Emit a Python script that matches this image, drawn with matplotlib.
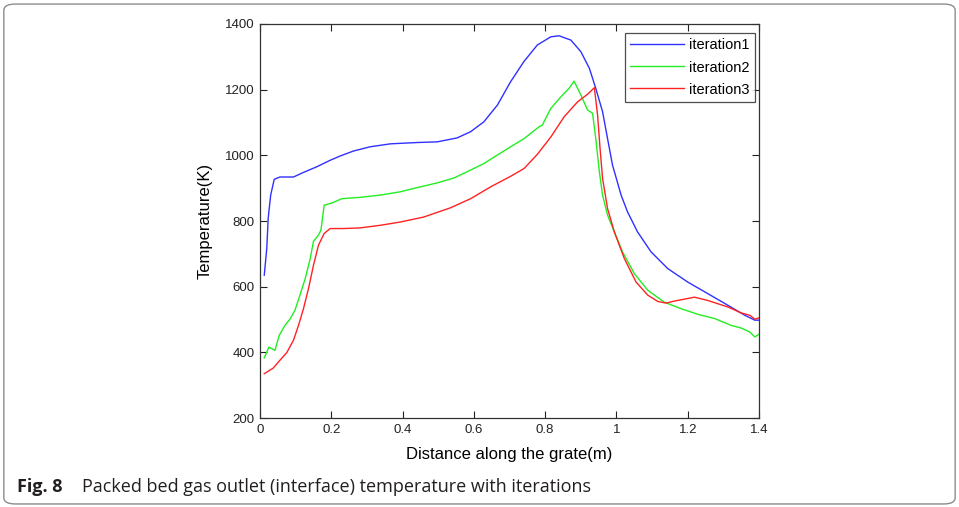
#!/usr/bin/env python3
"""Packed bed gas outlet temperature for three iterations (Fig. 8)."""

import matplotlib

matplotlib.use("Agg")
import matplotlib.pyplot as plt
from matplotlib.patches import FancyBboxPatch

# iteration 1
x_it1 = [0.012, 0.019, 0.023, 0.030, 0.040, 0.056, 0.094, 0.122, 0.159, 0.197,
         0.225, 0.262, 0.309, 0.366, 0.441, 0.497, 0.553, 0.591, 0.628, 0.666,
         0.703, 0.740, 0.778, 0.816, 0.839, 0.872, 0.900, 0.924, 0.942, 0.961,
         0.975, 0.989, 1.013, 1.031, 1.059, 1.097, 1.144, 1.200, 1.256, 1.313,
         1.360, 1.388, 1.400]
y_it1 = [635, 716, 808, 879, 927, 934, 934, 948, 965, 985,
         998, 1013, 1026, 1035, 1039, 1041, 1053, 1072, 1102, 1153,
         1224, 1285, 1336, 1361, 1364, 1351, 1316, 1265, 1204, 1133,
         1051, 970, 879, 828, 767, 706, 655, 614, 579, 543,
         513, 498, 498]

# iteration 2
x_it2 = [0.012, 0.025, 0.042, 0.054, 0.070, 0.084, 0.098, 0.112, 0.127, 0.141,
         0.150, 0.164, 0.171, 0.180, 0.202, 0.230, 0.281, 0.338, 0.394, 0.450,
         0.497, 0.544, 0.581, 0.628, 0.666, 0.703, 0.741, 0.783, 0.792, 0.816,
         0.844, 0.867, 0.881, 0.900, 0.919, 0.933, 0.942, 0.952, 0.961, 0.975,
         0.994, 1.017, 1.050, 1.088, 1.134, 1.181, 1.228, 1.275, 1.322, 1.350,
         1.374, 1.388, 1.400]
y_it2 = [383, 416, 406, 452, 482, 501, 528, 574, 625, 686,
         738, 757, 772, 848, 855, 868, 872, 879, 889, 904,
         916, 931, 950, 975, 1001, 1026, 1051, 1087, 1092, 1143,
         1178, 1204, 1226, 1184, 1138, 1128, 1051, 950, 879, 818,
         767, 706, 640, 589, 553, 533, 516, 503, 482, 474,
         462, 447, 455]

# iteration 3
x_it3 = [0.012, 0.037, 0.056, 0.075, 0.094, 0.108, 0.122, 0.136, 0.150, 0.164,
         0.180, 0.197, 0.234, 0.281, 0.338, 0.394, 0.459, 0.534, 0.591, 0.647,
         0.703, 0.741, 0.778, 0.816, 0.853, 0.891, 0.919, 0.938, 0.947, 0.954,
         0.961, 0.975, 0.994, 1.022, 1.055, 1.088, 1.116, 1.139, 1.162, 1.219,
         1.256, 1.313, 1.350, 1.374, 1.388, 1.400]
y_it3 = [335, 352, 376, 399, 437, 482, 533, 594, 665, 726,
         762, 777, 777, 779, 787, 797, 812, 840, 868, 904,
         936, 960, 1003, 1056, 1117, 1163, 1186, 1206, 1123, 1021,
         930, 838, 767, 686, 614, 574, 555, 550, 556, 568,
         558, 538, 520, 513, 501, 505]

x_ticks = [0, 0.2, 0.4, 0.6, 0.8, 1.0, 1.2, 1.4]
x_tick_labels = ["0", "0.2", "0.4", "0.6", "0.8", "1", "1.2", "1.4"]
y_ticks = [200, 400, 600, 800, 1000, 1200, 1400]

plt.rcParams["font.family"] = ["Liberation Sans", "DejaVu Sans"]

fig = plt.figure(figsize=(9.59, 5.07), dpi=100)

# rounded frame around the whole figure
frame = FancyBboxPatch(
    (0.004, 0.006), 0.992, 0.986,
    boxstyle="round,pad=0,rounding_size=0.012",
    transform=fig.transFigure, fill=False, edgecolor="#8c8c8c", linewidth=1.0,
)
fig.patches.append(frame)

ax = fig.add_axes([0.2711, 0.1755, 0.5204, 0.7772])
ax.plot(x_it1, y_it1, color="#3030ff", linewidth=1.0, label="iteration1")
ax.plot(x_it2, y_it2, color="#22ee22", linewidth=1.0, label="iteration2")
ax.plot(x_it3, y_it3, color="#ff2222", linewidth=1.0, label="iteration3")

ax.set_xlim(0, 1.4)
ax.set_ylim(200, 1400)
ax.set_xticks(x_ticks)
ax.set_xticklabels(x_tick_labels)
ax.set_yticks(y_ticks)
ax.tick_params(direction="in", top=True, right=True, length=5, width=0.8,
               labelsize=9.5, colors="#222222", pad=4)
for spine in ax.spines.values():
    spine.set_linewidth(0.9)
    spine.set_color("#333333")

ax.set_xlabel("Distance along the grate(m)", fontsize=12, labelpad=8)
ax.set_ylabel("Temperature(K)", fontsize=12, labelpad=9)

leg = ax.legend(loc="upper right", bbox_to_anchor=(0.992, 0.978), fontsize=10.5,
                frameon=True, fancybox=False, handlelength=3.7,
                borderpad=0.4, labelspacing=0.55, handletextpad=0.3,
                borderaxespad=0)
leg.get_frame().set_edgecolor("#222222")
leg.get_frame().set_linewidth(0.9)

fig.text(0.018, 0.030, "Fig. 8", fontsize=13, fontweight="bold",
         family=["Open Sans", "DejaVu Sans"], color="#231f20")
fig.text(0.0855, 0.030, "Packed bed gas outlet (interface) temperature with iterations",
         fontsize=13, family=["Open Sans", "DejaVu Sans"], color="#231f20")

fig.savefig("out.png", dpi=100)
